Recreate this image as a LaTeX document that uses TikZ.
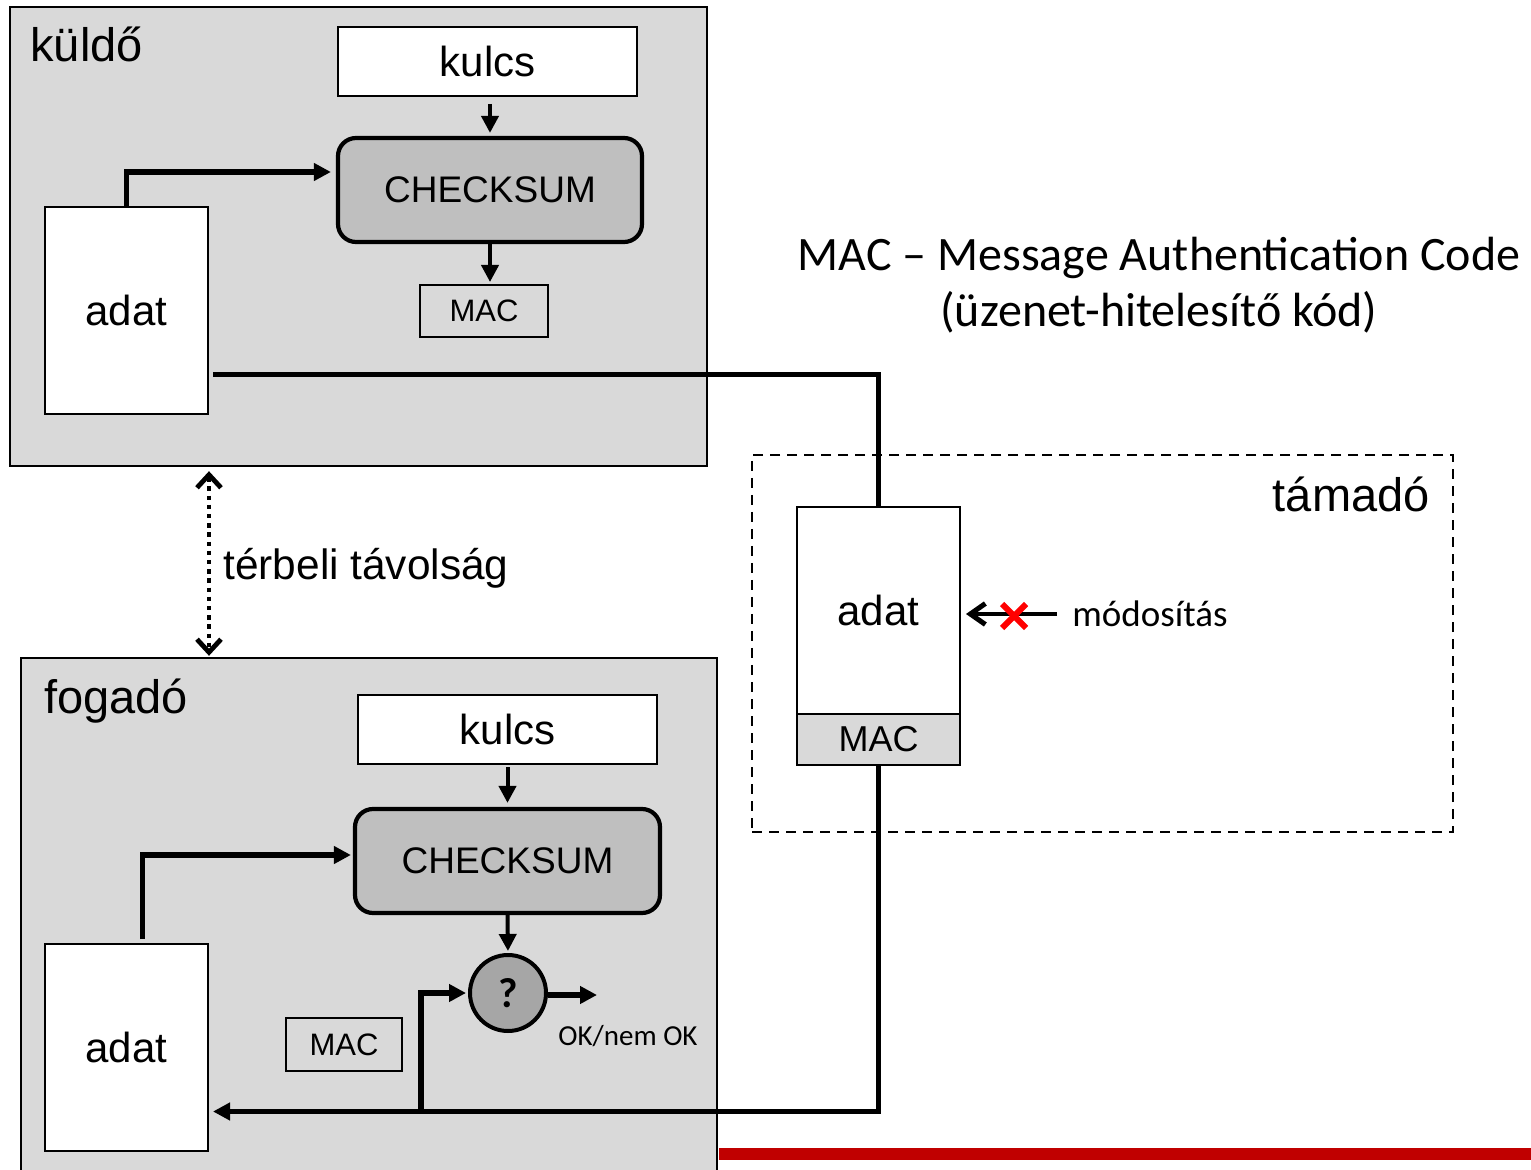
\documentclass[tikz,border=0pt]{standalone}
\usepackage{fontspec}
\setmainfont{Liberation Sans}
\newfontfamily\calfont{Carlito}
\usetikzlibrary{arrows.meta,calc}
\definecolor{panelgray}{HTML}{D9D9D9}
\definecolor{csgray}{HTML}{BFBFBF}
\definecolor{qgray}{HTML}{A6A6A6}
\definecolor{barred}{HTML}{C00000}
\tikzset{
  barbtip/.tip={Straight Barb[length=6.5pt,width=12pt,line width=2.4pt]},
  modtip/.tip={Straight Barb[length=7.5pt,width=10.5pt,line width=2.5pt]},
}
\begin{document}
\begin{tikzpicture}[x=0.5pt,y=-0.5pt,
  panel/.style={draw, fill=panelgray, line width=1.2pt, inner sep=0pt},
  wbox/.style={draw, fill=white, line width=1pt, inner sep=0pt},
  csbox/.style={draw, fill=csgray, line width=2.1pt, rounded corners=9pt, inner sep=0pt,
    minimum width=152pt, minimum height=52pt, font=\fontsize{18.5}{22}\selectfont},
  keybox/.style={wbox, minimum width=149.5pt, minimum height=34.5pt, font=\fontsize{21}{25}\selectfont},
  databox/.style={wbox, minimum width=81.5pt, minimum height=103.5pt, font=\fontsize{21}{25}\selectfont},
  macbox/.style={draw, line width=1pt, inner sep=0pt, font=\fontsize{15.5}{19}\selectfont},
  biglabel/.style={font=\fontsize{23.5}{28}\selectfont, inner sep=0pt},
  thinarrow/.style={line width=2pt, -{Triangle[length=8.5pt,width=8.5pt]}},
  thickline/.style={line width=2.6pt},
  thickarrow/.style={line width=2.6pt, -{Triangle[length=8.5pt,width=8.5pt]}},
]
\clip (0,0) rectangle (1531,1170);
\fill[white] (0,0) rectangle (1531,1170);

% red bar
\coordinate (barend) at (1531,1154);

% panels
\node[panel, minimum width=348.5pt, minimum height=229.5pt] (sender) at (358.5,236.5) {};
\node[panel, minimum width=348pt, minimum height=263.5pt] (receiver) at (369,921.5) {};
\draw[barred, line width=6pt] ([xshift=0.6pt]barend -| receiver.east) -- (barend);

\node[biglabel, anchor=base west] (senderlabel) at (30,62) {küldő};
\node[biglabel, anchor=base west] (receiverlabel) at (44,713) {fogadó};

% sender contents
\node[keybox] (key1) at (487.5,61.5) {\raisebox{-1pt}{kulcs}};
\node[csbox] (cs1) at (490,190) {CHECKSUM};
\node[macbox, fill=panelgray, minimum width=64pt, minimum height=26pt] (mac1) at (484,311) {MAC};
\node[databox] (data1) at (126.5,310.5) {\raisebox{-1.5pt}{adat}};

% receiver contents
\node[keybox] (key2) at (507.5,729.5) {\raisebox{-1pt}{kulcs}};
\node[csbox, minimum width=152.5pt] (cs2) at (507.5,861) {CHECKSUM};
\node[circle, draw, fill=qgray, line width=2pt, minimum size=38pt, inner sep=0pt,
  font=\calfont\bfseries\fontsize{21}{25}\selectfont] (cmp) at (508,993) {?};
\node[macbox, fill=panelgray, minimum width=58pt, minimum height=26.5pt] (mac2) at (344,1044.5) {MAC};
\node[databox] (data2) at (126.5,1047.5) {\raisebox{-1.5pt}{adat}};
\node[anchor=west, inner sep=0pt, font=\calfont\fontsize{14.5}{17}\selectfont] (oklabel) at (558,1036) {OK/nem OK};
\coordinate (okend) at (597,995);

% attacker
\node[draw, dash pattern=on 5pt off 3.5pt, line width=1pt, minimum width=350.5pt, minimum height=188.5pt] (attacker) at (1102.5,643.5) {};
\node[biglabel, anchor=base east] (attlabel) at (1430,512) {támadó};
\node[databox] (data3) at (878.5,610.5) {\raisebox{-2pt}{adat}};
\node[macbox, fill=panelgray, minimum width=81.5pt, minimum height=25.5pt, font=\fontsize{18}{22}\selectfont] (mac3) at (878.5,739.5) {\raisebox{-0.8pt}{MAC}};
\node[anchor=west, inner sep=0pt, font=\calfont\fontsize{18.5}{22}\selectfont] (modlabel) at (1072,614) {módosítás};
\coordinate (modstart) at (1057,614);
\coordinate (cross) at (1014,616);

% title
\node[align=center, inner sep=0pt, font=\calfont\fontsize{24}{28}\selectfont] (title) at (1159,285)
  {MAC – Message Authentication Code\\(üzenet-hitelesítő kód)};

% distance
\node[anchor=west, inner sep=0pt, font=\fontsize{21.2}{25}\selectfont] (distlabel) at (223,568) {térbeli távolság};
\draw[line width=2.4pt, dash pattern=on 2.2pt off 2.4pt, barbtip-barbtip,
  shorten <=2pt, shorten >=0.5pt]
  (sender.south -| data1.east) -- (receiver.north -| data1.east);

% sender connectors
\draw[thinarrow, shorten <=3.5pt, shorten >=1.5pt] (key1.south -| cs1.south) -- (cs1.north);
\draw[thickarrow, shorten >=2.5pt] (data1.north) |- ([yshift=9pt]cs1.west);
\draw[thinarrow, shorten >=1pt] (cs1.south) -- (cs1.south |- mac1.north);
\draw[thickline, shorten <=2pt] ([yshift=-32pt]data1.east) -| (data3.north);

% receiver connectors
\draw[thinarrow, shorten <=1pt, shorten >=2pt] (key2.south) -- (cs2.north);
\draw[thickarrow, shorten <=2pt, shorten >=1pt] ([xshift=8pt]data2.north) |- ([yshift=3pt]cs2.west);
\draw[thinarrow, shorten >=1pt] (cs2.south) -- (cmp.north);
\draw[thickarrow, shorten >=2pt] (mac3.south) |- ([yshift=-32pt]data2.east);
\coordinate (branch) at (421,1109);
\draw[thickarrow, shorten >=1pt] (branch) |- (cmp.west);
\draw[thickarrow] (cmp.east |- okend) -- (okend);

% modification
\draw[line width=2.4pt, -modtip, shorten >=2.5pt] (modstart) -- (data3.east |- modstart);
\draw[red, line width=3pt] ($(cross)+(-12,-12)$) -- ($(cross)+(12,12)$)
  ($(cross)+(-12,12)$) -- ($(cross)+(12,-12)$);
\end{tikzpicture}
\end{document}
